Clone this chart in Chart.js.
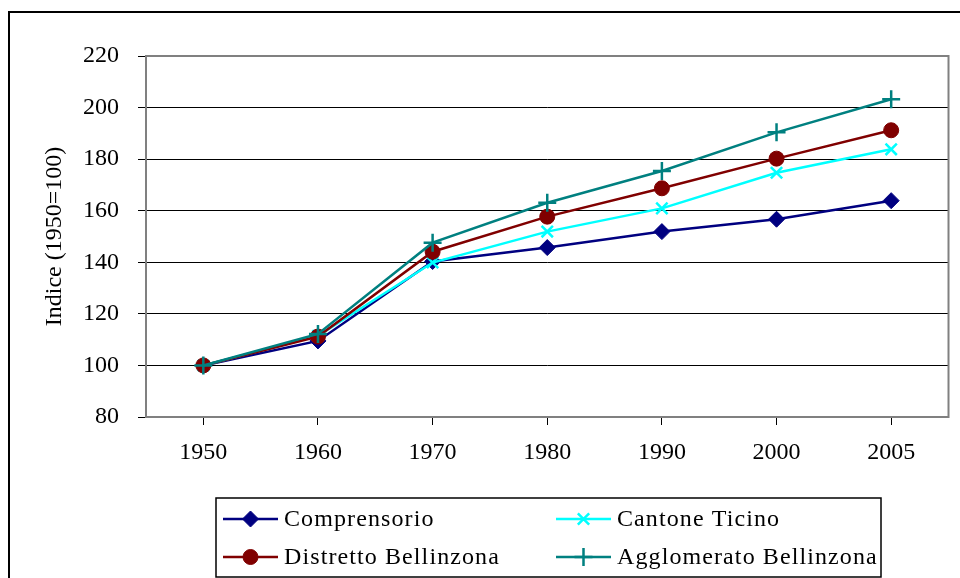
<!DOCTYPE html>
<html>
<head>
<meta charset="utf-8">
<script src="https://cdn.jsdelivr.net/npm/chart.js@4/dist/chart.umd.min.js"></script>
<style>
    html, body { margin: 0; padding: 0; background: #fff; }
    #wrap { width: 960px; height: 578px; position: relative; }
</style>
</head>
<body>
<div id="wrap"><canvas id="popChart" width="960" height="578"></canvas></div>
<script>
// anni e indici (1950=100)
const years = ['1950', '1960', '1970', '1980', '1990', '2000', '2005'];
const comprensorio = [100, 109.5, 140.3, 145.7, 151.9, 156.7, 163.9];
const cantoneTicino = [100, 111.5, 139.9, 151.9, 160.9, 174.7, 183.8];
const distrettoBellinzona = [100, 111.2, 144.1, 157.7, 168.7, 180.2, 191.2];
const agglomeratoBellinzona = [100, 112.2, 147.6, 163.1, 175.4, 190.4, 203.2];
const yTicks = [80, 100, 120, 140, 160, 180, 200, 220];

const FONT = "'Liberation Serif', 'Times New Roman', serif";

const series = [
    { label: 'Comprensorio', data: comprensorio, color: '#000080', style: 'rectRot', radius: 8, bw: 1, order: 4 },
    { label: 'Cantone Ticino', data: cantoneTicino, color: '#00ffff', style: 'crossRot', radius: 8, bw: 2.5, order: 3 },
    { label: 'Distretto Bellinzona', data: distrettoBellinzona, color: '#800000', style: 'circle', radius: 7.5, bw: 1, order: 2 },
    { label: 'Agglomerato Bellinzona', data: agglomeratoBellinzona, color: '#008080', style: 'cross', radius: 9, bw: 2.5, order: 1 }
];

// cornice esterna e bordo area grafico
const framePlugin = {
    id: 'frame',
    beforeDraw(chart) {
        const ctx = chart.ctx;
        ctx.save();
        ctx.strokeStyle = '#000';
        ctx.lineWidth = 2;
        ctx.strokeRect(9, 12, 1200, 1200);
        ctx.restore();
    },
    beforeDatasetsDraw(chart) {
        const { ctx, chartArea: a } = chart;
        ctx.save();
        ctx.strokeStyle = '#808080';
        ctx.lineWidth = 2;
        ctx.strokeRect(a.left, a.top, a.right - a.left, a.bottom - a.top);
        ctx.restore();
    }
};

// legenda a due colonne con riquadro
const boxLegend = {
    id: 'boxLegend',
    afterDraw(chart) {
        const ctx = chart.ctx;
        const box = { x: 216, y: 498, w: 665, h: 79 };
        ctx.save();
        ctx.strokeStyle = '#000';
        ctx.lineWidth = 1.5;
        ctx.strokeRect(box.x, box.y, box.w, box.h);
        ctx.font = '24px ' + FONT;
        ctx.letterSpacing = '1.1px';
        ctx.textBaseline = 'middle';
        const cols = [223, 556];
        const rows = [519, 557];
        series.forEach((s, i) => {
            const x = cols[i % 2];
            const y = rows[Math.floor(i / 2)];
            ctx.strokeStyle = s.color;
            ctx.fillStyle = s.color;
            ctx.lineWidth = 2.5;
            ctx.beginPath();
            ctx.moveTo(x, y);
            ctx.lineTo(x + 55, y);
            ctx.stroke();
            ctx.lineWidth = s.bw;
            Chart.helpers.drawPoint(ctx, { pointStyle: s.style, radius: s.radius, borderWidth: s.bw, rotation: 0 }, x + 27.5, y);
            ctx.fillStyle = '#000';
            ctx.textAlign = 'left';
            ctx.fillText(s.label, x + 61, y + 1);
        });
        ctx.restore();
    }
};

new Chart(document.getElementById('popChart'), {
    type: 'line',
    data: {
        labels: years,
        datasets: series.map(s => ({
            label: s.label,
            data: s.data,
            order: s.order,
            borderColor: s.color,
            backgroundColor: s.color,
            borderWidth: 2.5,
            pointStyle: s.style,
            pointRadius: s.radius,
            pointBorderWidth: s.bw,
            pointBorderColor: s.color,
            pointBackgroundColor: s.color,
            tension: 0,
            fill: false
        }))
    },
    options: {
        responsive: false,
        animation: false,
        layout: { padding: { left: 0, top: 56, right: 10, bottom: 0 } },
        plugins: {
            legend: { display: false },
            tooltip: { enabled: false },
            title: { display: false }
        },
        scales: {
            x: {
                offset: true,
                afterFit: (scale) => { scale.height = 161; },
                grid: { drawOnChartArea: false, drawTicks: true, tickLength: 8, color: '#000', lineWidth: 1 },
                border: { color: '#808080', width: 2 },
                ticks: { color: '#000', font: { family: FONT, size: 24 }, padding: 13, maxRotation: 0 }
            },
            y: {
                min: 80,
                max: 220,
                afterFit: (scale) => { scale.width = 146; },
                afterBuildTicks: (scale) => { scale.ticks = yTicks.map(v => ({ value: v })); },
                grid: { color: '#000', lineWidth: 1, drawTicks: true, tickLength: 8 },
                border: { color: '#808080', width: 2 },
                ticks: { color: '#000', font: { family: FONT, size: 24 }, padding: 19 },
                title: {
                    display: true,
                    text: 'Indice (1950=100)',
                    color: '#000',
                    font: { family: FONT, size: 24 },
                    padding: { top: 40, bottom: 0 }
                }
            }
        }
    },
    plugins: [framePlugin, boxLegend]
});
</script>
</body>
</html>
